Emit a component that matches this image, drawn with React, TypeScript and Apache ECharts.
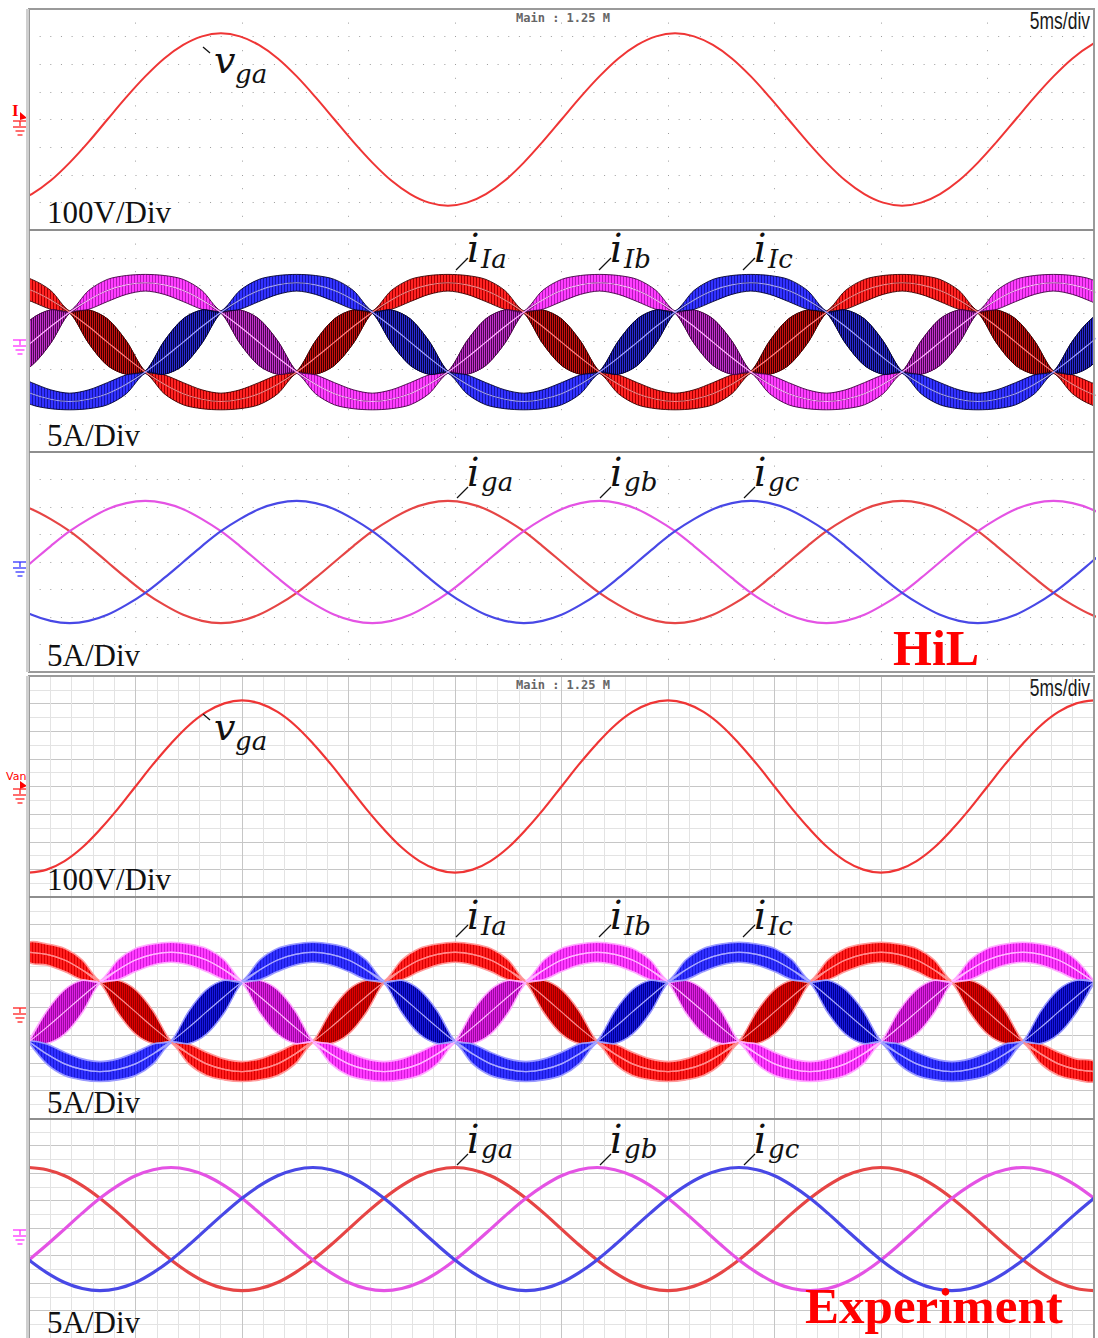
import React, { useEffect, useRef } from "react";
import * as echarts from "echarts";

// ---------------- HiL capture: sample instants (ms) ----------------
const hilTime = [-0.76, 0.13, 1.02, 1.91, 2.8, 3.68, 4.57, 5.46, 6.35, 7.24, 8.12, 9.01, 9.9, 10.79, 11.68, 12.57, 13.45, 14.34, 15.23, 16.12, 17.01, 17.9, 18.78, 19.67, 20.56, 21.45, 22.34, 23.23, 24.11, 25.0, 25.89, 26.78, 27.67, 28.56, 29.44, 30.33, 31.22, 32.11, 33.0, 33.89, 34.77, 35.66, 36.55, 37.44, 38.33, 39.22, 40.1, 40.99, 41.88, 42.77, 43.66, 44.55, 45.43, 46.32, 47.21, 48.1, 48.99, 49.88, 50.76];

// grid voltage v_ga (V)
const hilVga = [-301, -270, -221, -156, -81, 0, 81, 156, 221, 270, 301, 312, 301, 270, 221, 156, 81, 0, -81, -156, -221, -270, -301, -312, -301, -270, -221, -156, -81, 0, 81, 156, 221, 270, 301, 312, 301, 270, 221, 156, 81, 0, -81, -156, -221, -270, -301, -312, -301, -270, -221, -156, -81, 0, 81, 156, 221, 270, 301];

// inverter-side currents (A), fundamental
const hilILa = [10.3, 9.3, 7.6, 5.4, 2.8, 0, -2.8, -5.4, -7.6, -9.3, -10.3, -10.7, -10.3, -9.3, -7.6, -5.4, -2.8, 0, 2.8, 5.4, 7.6, 9.3, 10.3, 10.7, 10.3, 9.3, 7.6, 5.4, 2.8, 0, -2.8, -5.4, -7.6, -9.3, -10.3, -10.7, -10.3, -9.3, -7.6, -5.4, -2.8, 0, 2.8, 5.4, 7.6, 9.3, 10.3, 10.7, 10.3, 9.3, 7.6, 5.4, 2.8, 0, -2.8, -5.4, -7.6, -9.3, -10.3];
const hilILb = [-2.8, 0, 2.8, 5.4, 7.6, 9.3, 10.3, 10.7, 10.3, 9.3, 7.6, 5.4, 2.8, 0, -2.8, -5.4, -7.6, -9.3, -10.3, -10.7, -10.3, -9.3, -7.6, -5.4, -2.8, 0, 2.8, 5.4, 7.6, 9.3, 10.3, 10.7, 10.3, 9.3, 7.6, 5.4, 2.8, 0, -2.8, -5.4, -7.6, -9.3, -10.3, -10.7, -10.3, -9.3, -7.6, -5.4, -2.8, 0, 2.8, 5.4, 7.6, 9.3, 10.3, 10.7, 10.3, 9.3, 7.6];
const hilILc = [-7.6, -9.3, -10.3, -10.7, -10.3, -9.3, -7.6, -5.4, -2.8, 0, 2.8, 5.4, 7.6, 9.3, 10.3, 10.7, 10.3, 9.3, 7.6, 5.4, 2.8, 0, -2.8, -5.4, -7.6, -9.3, -10.3, -10.7, -10.3, -9.3, -7.6, -5.4, -2.8, 0, 2.8, 5.4, 7.6, 9.3, 10.3, 10.7, 10.3, 9.3, 7.6, 5.4, 2.8, 0, -2.8, -5.4, -7.6, -9.3, -10.3, -10.7, -10.3, -9.3, -7.6, -5.4, -2.8, 0, 2.8];

// switching-ripple half-width of each inverter current (A)
const hilRipA = [1.7, 2.0, 1.7, 0.2, 3.0, 4.2, 3.0, 0.2, 1.7, 2.0, 1.7, 1.5, 1.7, 2.0, 1.7, 0.2, 3.0, 4.2, 3.0, 0.2, 1.7, 2.0, 1.7, 1.5, 1.7, 2.0, 1.7, 0.2, 3.0, 4.2, 3.0, 0.2, 1.7, 2.0, 1.7, 1.5, 1.7, 2.0, 1.7, 0.2, 3.0, 4.2, 3.0, 0.2, 1.7, 2.0, 1.7, 1.5, 1.7, 2.0, 1.7, 0.2, 3.0, 4.2, 3.0, 0.2, 1.7, 2.0, 1.7];
const hilRipB = [3.0, 4.2, 3.0, 0.2, 1.7, 2.0, 1.7, 1.5, 1.7, 2.0, 1.7, 0.2, 3.0, 4.2, 3.0, 0.2, 1.7, 2.0, 1.7, 1.5, 1.7, 2.0, 1.7, 0.2, 3.0, 4.2, 3.0, 0.2, 1.7, 2.0, 1.7, 1.5, 1.7, 2.0, 1.7, 0.2, 3.0, 4.2, 3.0, 0.2, 1.7, 2.0, 1.7, 1.5, 1.7, 2.0, 1.7, 0.2, 3.0, 4.2, 3.0, 0.2, 1.7, 2.0, 1.7, 1.5, 1.7, 2.0, 1.7];
const hilRipC = [1.7, 2.0, 1.7, 1.5, 1.7, 2.0, 1.7, 0.2, 3.0, 4.2, 3.0, 0.2, 1.7, 2.0, 1.7, 1.5, 1.7, 2.0, 1.7, 0.2, 3.0, 4.2, 3.0, 0.2, 1.7, 2.0, 1.7, 1.5, 1.7, 2.0, 1.7, 0.2, 3.0, 4.2, 3.0, 0.2, 1.7, 2.0, 1.7, 1.5, 1.7, 2.0, 1.7, 0.2, 3.0, 4.2, 3.0, 0.2, 1.7, 2.0, 1.7, 1.5, 1.7, 2.0, 1.7, 0.2, 3.0, 4.2, 3.0];

// grid-side currents (A)
const hilIga = [10.7, 9.6, 7.8, 5.6, 2.9, 0, -2.9, -5.6, -7.8, -9.6, -10.7, -11.1, -10.7, -9.6, -7.8, -5.6, -2.9, 0, 2.9, 5.6, 7.8, 9.6, 10.7, 11.1, 10.7, 9.6, 7.8, 5.6, 2.9, 0, -2.9, -5.6, -7.8, -9.6, -10.7, -11.1, -10.7, -9.6, -7.8, -5.6, -2.9, 0, 2.9, 5.6, 7.8, 9.6, 10.7, 11.1, 10.7, 9.6, 7.8, 5.6, 2.9, 0, -2.9, -5.6, -7.8, -9.6, -10.7];
const hilIgb = [-2.9, 0, 2.9, 5.6, 7.8, 9.6, 10.7, 11.1, 10.7, 9.6, 7.8, 5.6, 2.9, 0, -2.9, -5.6, -7.8, -9.6, -10.7, -11.1, -10.7, -9.6, -7.8, -5.6, -2.9, 0, 2.9, 5.6, 7.8, 9.6, 10.7, 11.1, 10.7, 9.6, 7.8, 5.6, 2.9, 0, -2.9, -5.6, -7.8, -9.6, -10.7, -11.1, -10.7, -9.6, -7.8, -5.6, -2.9, 0, 2.9, 5.6, 7.8, 9.6, 10.7, 11.1, 10.7, 9.6, 7.8];
const hilIgc = [-7.8, -9.6, -10.7, -11.1, -10.7, -9.6, -7.8, -5.6, -2.9, 0, 2.9, 5.6, 7.8, 9.6, 10.7, 11.1, 10.7, 9.6, 7.8, 5.6, 2.9, 0, -2.9, -5.6, -7.8, -9.6, -10.7, -11.1, -10.7, -9.6, -7.8, -5.6, -2.9, 0, 2.9, 5.6, 7.8, 9.6, 10.7, 11.1, 10.7, 9.6, 7.8, 5.6, 2.9, 0, -2.9, -5.6, -7.8, -9.6, -10.7, -11.1, -10.7, -9.6, -7.8, -5.6, -2.9, 0, 2.9];

// ---------------- Experimental capture: sample instants (ms) ----------------
const expTime = [0, 0.83, 1.67, 2.5, 3.33, 4.17, 5, 5.83, 6.67, 7.5, 8.33, 9.17, 10, 10.83, 11.67, 12.5, 13.33, 14.17, 15, 15.83, 16.67, 17.5, 18.33, 19.17, 20, 20.83, 21.67, 22.5, 23.33, 24.17, 25, 25.83, 26.67, 27.5, 28.33, 29.17, 30, 30.83, 31.67, 32.5, 33.33, 34.17, 35, 35.83, 36.67, 37.5, 38.33, 39.17, 40, 40.83, 41.67, 42.5, 43.33, 44.17, 45, 45.83, 46.67, 47.5, 48.33, 49.17, 50];

const expVga = [-312, -301, -270, -221, -156, -81, 0, 81, 156, 221, 270, 301, 312, 301, 270, 221, 156, 81, 0, -81, -156, -221, -270, -301, -312, -301, -270, -221, -156, -81, 0, 81, 156, 221, 270, 301, 312, 301, 270, 221, 156, 81, 0, -81, -156, -221, -270, -301, -312, -301, -270, -221, -156, -81, 0, 81, 156, 221, 270, 301, 312];

const expILa = [10.8, 10.4, 9.4, 7.6, 5.4, 2.8, 0, -2.8, -5.4, -7.6, -9.4, -10.4, -10.8, -10.4, -9.4, -7.6, -5.4, -2.8, 0, 2.8, 5.4, 7.6, 9.4, 10.4, 10.8, 10.4, 9.4, 7.6, 5.4, 2.8, 0, -2.8, -5.4, -7.6, -9.4, -10.4, -10.8, -10.4, -9.4, -7.6, -5.4, -2.8, 0, 2.8, 5.4, 7.6, 9.4, 10.4, 10.8, 10.4, 9.4, 7.6, 5.4, 2.8, 0, -2.8, -5.4, -7.6, -9.4, -10.4, -10.8];
const expILb = [-5.4, -2.8, 0, 2.8, 5.4, 7.6, 9.4, 10.4, 10.8, 10.4, 9.4, 7.6, 5.4, 2.8, 0, -2.8, -5.4, -7.6, -9.4, -10.4, -10.8, -10.4, -9.4, -7.6, -5.4, -2.8, 0, 2.8, 5.4, 7.6, 9.4, 10.4, 10.8, 10.4, 9.4, 7.6, 5.4, 2.8, 0, -2.8, -5.4, -7.6, -9.4, -10.4, -10.8, -10.4, -9.4, -7.6, -5.4, -2.8, 0, 2.8, 5.4, 7.6, 9.4, 10.4, 10.8, 10.4, 9.4, 7.6, 5.4];
const expILc = [-5.4, -7.6, -9.4, -10.4, -10.8, -10.4, -9.4, -7.6, -5.4, -2.8, 0, 2.8, 5.4, 7.6, 9.4, 10.4, 10.8, 10.4, 9.4, 7.6, 5.4, 2.8, 0, -2.8, -5.4, -7.6, -9.4, -10.4, -10.8, -10.4, -9.4, -7.6, -5.4, -2.8, 0, 2.8, 5.4, 7.6, 9.4, 10.4, 10.8, 10.4, 9.4, 7.6, 5.4, 2.8, 0, -2.8, -5.4, -7.6, -9.4, -10.4, -10.8, -10.4, -9.4, -7.6, -5.4, -2.8, 0, 2.8, 5.4];

const expRipA = [1.8, 1.9, 2.1, 1.8, 0.2, 2.9, 4.0, 2.9, 0.2, 1.8, 2.1, 1.9, 1.8, 1.9, 2.1, 1.8, 0.2, 2.9, 4.0, 2.9, 0.2, 1.8, 2.1, 1.9, 1.8, 1.9, 2.1, 1.8, 0.2, 2.9, 4.0, 2.9, 0.2, 1.8, 2.1, 1.9, 1.8, 1.9, 2.1, 1.8, 0.2, 2.9, 4.0, 2.9, 0.2, 1.8, 2.1, 1.9, 1.8, 1.9, 2.1, 1.8, 0.2, 2.9, 4.0, 2.9, 0.2, 1.8, 2.1, 1.9, 1.8];
const expRipB = [0.2, 2.9, 4.0, 2.9, 0.2, 1.8, 2.1, 1.9, 1.8, 1.9, 2.1, 1.8, 0.2, 2.9, 4.0, 2.9, 0.2, 1.8, 2.1, 1.9, 1.8, 1.9, 2.1, 1.8, 0.2, 2.9, 4.0, 2.9, 0.2, 1.8, 2.1, 1.9, 1.8, 1.9, 2.1, 1.8, 0.2, 2.9, 4.0, 2.9, 0.2, 1.8, 2.1, 1.9, 1.8, 1.9, 2.1, 1.8, 0.2, 2.9, 4.0, 2.9, 0.2, 1.8, 2.1, 1.9, 1.8, 1.9, 2.1, 1.8, 0.2];
const expRipC = [0.2, 1.8, 2.1, 1.9, 1.8, 1.9, 2.1, 1.8, 0.2, 2.9, 4.0, 2.9, 0.2, 1.8, 2.1, 1.9, 1.8, 1.9, 2.1, 1.8, 0.2, 2.9, 4.0, 2.9, 0.2, 1.8, 2.1, 1.9, 1.8, 1.9, 2.1, 1.8, 0.2, 2.9, 4.0, 2.9, 0.2, 1.8, 2.1, 1.9, 1.8, 1.9, 2.1, 1.8, 0.2, 2.9, 4.0, 2.9, 0.2, 1.8, 2.1, 1.9, 1.8, 1.9, 2.1, 1.8, 0.2, 2.9, 4.0, 2.9, 0.2];

const expIga = [11.2, 10.8, 9.7, 7.9, 5.6, 2.9, 0, -2.9, -5.6, -7.9, -9.7, -10.8, -11.2, -10.8, -9.7, -7.9, -5.6, -2.9, 0, 2.9, 5.6, 7.9, 9.7, 10.8, 11.2, 10.8, 9.7, 7.9, 5.6, 2.9, 0, -2.9, -5.6, -7.9, -9.7, -10.8, -11.2, -10.8, -9.7, -7.9, -5.6, -2.9, 0, 2.9, 5.6, 7.9, 9.7, 10.8, 11.2, 10.8, 9.7, 7.9, 5.6, 2.9, 0, -2.9, -5.6, -7.9, -9.7, -10.8, -11.2];
const expIgb = [-5.6, -2.9, 0, 2.9, 5.6, 7.9, 9.7, 10.8, 11.2, 10.8, 9.7, 7.9, 5.6, 2.9, 0, -2.9, -5.6, -7.9, -9.7, -10.8, -11.2, -10.8, -9.7, -7.9, -5.6, -2.9, 0, 2.9, 5.6, 7.9, 9.7, 10.8, 11.2, 10.8, 9.7, 7.9, 5.6, 2.9, 0, -2.9, -5.6, -7.9, -9.7, -10.8, -11.2, -10.8, -9.7, -7.9, -5.6, -2.9, 0, 2.9, 5.6, 7.9, 9.7, 10.8, 11.2, 10.8, 9.7, 7.9, 5.6];
const expIgc = [-5.6, -7.9, -9.7, -10.8, -11.2, -10.8, -9.7, -7.9, -5.6, -2.9, 0, 2.9, 5.6, 7.9, 9.7, 10.8, 11.2, 10.8, 9.7, 7.9, 5.6, 2.9, 0, -2.9, -5.6, -7.9, -9.7, -10.8, -11.2, -10.8, -9.7, -7.9, -5.6, -2.9, 0, 2.9, 5.6, 7.9, 9.7, 10.8, 11.2, 10.8, 9.7, 7.9, 5.6, 2.9, 0, -2.9, -5.6, -7.9, -9.7, -10.8, -11.2, -10.8, -9.7, -7.9, -5.6, -2.9, 0, 2.9, 5.6];

// scope settings shown on screen
const scaleLabels = ["100V/Div", "5A/Div", "5A/Div"];
const timeBase = "5ms/div";
const sampleInfo = "Main : 1.25 M";

// ---------------- layout ----------------
const PLOT_LEFT = 29;
const PLOT_W = 1065;
const SCOPE_SHIFT = 667;
const panelBox = [
  { top: 9, height: 221, min: -400, max: 400, dotted: true },
  { top: 230, height: 222, min: -19.8, max: 20.2, dotted: true },
  { top: 452, height: 220, min: -20, max: 20, dotted: true },
  { top: 676, height: 221, min: -400, max: 400, dotted: false },
  { top: 897, height: 221, min: -19.2, max: 20.8, dotted: false },
  { top: 1118, height: 220, min: -19.8, max: 20.2, dotted: false },
];

// band palettes: base hatch, wide-lobe hatch, outline, centre line
const HIL_RED = { hi: "#ff2222", lo: "#a30000", dhi: "#c81010", dlo: "#3c0000", edge: "#3a0000", ew: 0.9, mid: "#ff8080" };
const HIL_MAG = { hi: "#ff3dff", lo: "#b21cb8", dhi: "#c432cc", dlo: "#4a0850", edge: "#40003f", ew: 0.9, mid: "#ffb0ff" };
const HIL_BLU = { hi: "#3232ff", lo: "#1616a8", dhi: "#2a2ad0", dlo: "#05053e", edge: "#000030", ew: 0.9, mid: "#a0a0ff" };
const EXP_RED = { hi: "#ff1e1e", lo: "#d80000", dhi: "#e00000", dlo: "#9a0000", edge: "#ff9a9a", ew: 1.6, mid: "#ff8a8a" };
const EXP_MAG = { hi: "#ff3aff", lo: "#d21ad8", dhi: "#e020e4", dlo: "#9a0aa0", edge: "#ffaaff", ew: 1.6, mid: "#ffb8ff" };
const EXP_BLU = { hi: "#3030ff", lo: "#1a1ad8", dhi: "#1818e0", dlo: "#000090", edge: "#9a9aff", ew: 1.6, mid: "#a8a8ff" };

const hatch = (a: string, b: string, wa: number, wb: number) => ({
  image:
    "data:image/svg+xml;charset=utf-8," +
    encodeURIComponent(
      `<svg xmlns="http://www.w3.org/2000/svg" width="${wa + wb}" height="4"><rect width="${wa}" height="4" fill="${a}"/><rect x="${wa}" width="${wb}" height="4" fill="${b}"/></svg>`
    ),
  repeat: "repeat",
  imageWidth: wa + wb,
  imageHeight: 4,
});

const pairs = (t: number[], v: number[]) => t.map((x, i) => [x, v[i]]);

// ripple envelope of an inverter current: full band plus the darker wide lobes
function band(p: number, t: number[], c: number[], r: number[], col: any) {
  const lobe = r.map((v) => (v >= 2.5 ? v : 0));
  return {
    type: "custom",
    coordinateSystem: "cartesian2d",
    xAxisIndex: p,
    yAxisIndex: p * 2 + 1,
    data: t.map((x, i) => [x, c[i], r[i]]),
    silent: true,
    clip: true,
    z: 2,
    renderItem: (params: any, api: any) => {
      if (params.dataIndex !== 0) return null;
      const outline = (w: number[]) =>
        t
          .map((x, i) => api.coord([x, c[i] + w[i]]))
          .concat(t.map((x, i) => api.coord([x, c[i] - w[i]])).reverse());
      return {
        type: "group",
        children: [
          {
            type: "polygon",
            shape: { points: outline(r), smooth: 0.3 },
            style: { fill: hatch(col.hi, col.lo, 2, 1), stroke: col.edge, lineWidth: col.ew },
          },
          {
            type: "polygon",
            shape: { points: outline(lobe), smooth: 0.3 },
            style: { fill: hatch(col.dhi, col.dlo, 1, 1), stroke: col.edge, lineWidth: col.ew * 0.8 },
          },
        ],
      };
    },
  };
}

function trace(p: number, t: number[], v: number[], color: string, width: number, z = 3) {
  return {
    type: "line",
    xAxisIndex: p,
    yAxisIndex: p * 2 + 1,
    data: pairs(t, v),
    symbol: "none",
    smooth: 0.35,
    silent: true,
    z,
    lineStyle: { width, color },
  };
}

function ground(cx: number, y0: number, color: string) {
  const ln = (x1: number, y1: number, x2: number, y2: number) => ({
    type: "line",
    shape: { x1, y1, x2, y2 },
    style: { stroke: color, lineWidth: 1.3 },
    z: 100,
  });
  return [
    ln(cx - 7, y0, cx + 7, y0),
    ln(cx, y0, cx, y0 + 5),
    ln(cx - 7, y0 + 6, cx + 7, y0 + 6),
    ln(cx - 4.5, y0 + 10, cx + 4.5, y0 + 10),
    ln(cx - 2.5, y0 + 14, cx + 2.5, y0 + 14),
  ];
}

function txt(x: number, y: number, text: string, font: string, fill = "#111", align = "left", scaleX = 1) {
  return {
    type: "text",
    x,
    y,
    scaleX,
    z: 110,
    style: { text, font, fill, align, verticalAlign: "middle", textAlign: align, textVerticalAlign: "middle" },
  };
}

function seg(x1: number, y1: number, x2: number, y2: number, stroke = "#111", lineWidth = 1.3) {
  return { type: "line", shape: { x1, y1, x2, y2 }, style: { stroke, lineWidth }, z: 110 };
}

function mathLabel(x: number, y: number, main: string, sub: string, subDx: number, subDy: number, mainSize: number) {
  return [
    txt(x, y, main, `italic ${mainSize}px "DejaVu Serif"`),
    txt(x + subDx, y + subDy, sub, `italic 26px "DejaVu Serif"`),
  ];
}

function scopeDecor(dy: number) {
  const g: any[] = [];
  g.push({
    type: "rect",
    shape: { x: PLOT_LEFT, y: 9 + dy, width: PLOT_W, height: 663 },
    style: { fill: "none", stroke: "#9a9a9a", lineWidth: 2 },
    z: 90,
  });
  g.push(seg(PLOT_LEFT - 1.5, 9 + dy, PLOT_LEFT - 1.5, 672 + dy, "#cfcfcf", 3));
  g.push(seg(PLOT_LEFT, 230 + dy, PLOT_LEFT + PLOT_W, 230 + dy, "#8e8e8e", 2));
  g.push(seg(PLOT_LEFT, 452 + dy, PLOT_LEFT + PLOT_W, 452 + dy, "#8e8e8e", 2));
  g.push(txt(563, 18 + dy, sampleInfo, 'bold 12px "DejaVu Sans Mono"', "#666", "center"));
  g.push(txt(1090, 21 + dy, timeBase, '23px "Liberation Sans"', "#1a1a1a", "right", 0.76));
  g.push(txt(47, 212 + dy, scaleLabels[0], '31px "Liberation Serif"'));
  g.push(txt(47, 435 + dy, scaleLabels[1], '31px "Liberation Serif"'));
  g.push(txt(47, 655 + dy, scaleLabels[2], '31px "Liberation Serif"'));
  g.push(...mathLabel(214, 60 + dy, "v", "ga", 21, 14, 38));
  g.push(seg(203, 47 + dy, 210, 53 + dy));
  const iL = [["Ia", 467], ["Ib", 610], ["Ic", 754]] as const;
  iL.forEach(([s, x]) => {
    g.push(...mathLabel(x, 248 + dy, "i", s, 14, 11, 39));
    g.push(seg(x + 1, 258 + dy, x - 11, 270 + dy));
  });
  const ig = [["ga", 467], ["gb", 610], ["gc", 754]] as const;
  ig.forEach(([s, x]) => {
    g.push(...mathLabel(x, 472 + dy, "i", s, 14, 10, 39));
    g.push(seg(x + 1, 487 + dy, x - 10, 498 + dy));
  });
  return g;
}

export default function App() {
  const ref = useRef<HTMLDivElement>(null);

  useEffect(() => {
    if (!ref.current) return;
    const chart = echarts.init(ref.current, undefined, { renderer: "svg" });

    const grid = panelBox.map((b) => ({ left: PLOT_LEFT, width: PLOT_W, top: b.top, height: b.height }));

    const xAxis = panelBox.map((b, i) => ({
      type: "value",
      gridIndex: i,
      min: 0,
      max: 50,
      interval: 5,
      axisLine: { show: false },
      axisTick: { show: false },
      axisLabel: { show: false },
      splitLine: b.dotted
        ? { show: true, lineStyle: { color: "#9c9c9c", width: 1, type: [1, 26.6], dashOffset: 13.8 } }
        : { show: true, lineStyle: { color: "#c6c6c6", width: 1 } },
      minorTick: { show: false, splitNumber: 5 },
      minorSplitLine: { show: !b.dotted, lineStyle: { color: "#e3e3e3", width: 1 } },
    }));

    const yAxis: any[] = [];
    panelBox.forEach((b, i) => {
      yAxis.push({
        type: "value",
        gridIndex: i,
        min: -4,
        max: 4,
        interval: 1,
        axisLine: { show: false },
        axisTick: { show: false },
        axisLabel: { show: false },
        splitLine: b.dotted
          ? { show: true, lineStyle: { color: "#9c9c9c", width: 1, type: [1, 9.65] } }
          : { show: true, lineStyle: { color: "#c6c6c6", width: 1 } },
        minorTick: { show: false, splitNumber: 2 },
        minorSplitLine: { show: !b.dotted, lineStyle: { color: "#e3e3e3", width: 1 } },
      });
      yAxis.push({ type: "value", gridIndex: i, min: b.min, max: b.max, show: false });
    });

    const series: any[] = [
      // HiL
      trace(0, hilTime, hilVga, "#ef3535", 2),
      band(1, hilTime, hilILa, hilRipA, HIL_RED),
      band(1, hilTime, hilILb, hilRipB, HIL_MAG),
      band(1, hilTime, hilILc, hilRipC, HIL_BLU),
      trace(1, hilTime, hilILa, HIL_RED.mid, 1.2, 4),
      trace(1, hilTime, hilILb, HIL_MAG.mid, 1.2, 4),
      trace(1, hilTime, hilILc, HIL_BLU.mid, 1.2, 4),
      trace(2, hilTime, hilIga, "#e64545", 2.2),
      trace(2, hilTime, hilIgb, "#e453e4", 2.2),
      trace(2, hilTime, hilIgc, "#4848e6", 2.2),
      // experiment
      trace(3, expTime, expVga, "#ef3535", 2.2),
      band(4, expTime, expILa, expRipA, EXP_RED),
      band(4, expTime, expILb, expRipB, EXP_MAG),
      band(4, expTime, expILc, expRipC, EXP_BLU),
      trace(4, expTime, expILa, EXP_RED.mid, 1.2, 4),
      trace(4, expTime, expILb, EXP_MAG.mid, 1.2, 4),
      trace(4, expTime, expILc, EXP_BLU.mid, 1.2, 4),
      trace(5, expTime, expIga, "#e64545", 3.2),
      trace(5, expTime, expIgb, "#e453e4", 3.2),
      trace(5, expTime, expIgc, "#4848e6", 3.2),
    ];

    const graphic: any[] = [
      ...scopeDecor(0),
      ...scopeDecor(SCOPE_SHIFT),
      txt(12, 110, "I", 'bold 17px "Liberation Serif"', "#ff0000"),
      { type: "polygon", shape: { points: [[20, 112], [27, 118], [20, 120]] }, style: { fill: "#ff0000" }, z: 100 },
      ...ground(20, 121, "#ff2020"),
      ...ground(20, 340, "#ff33ff"),
      ...ground(20, 562, "#3333ff"),
      txt(6, 776, "Van", '11px "DejaVu Sans"', "#ff0000"),
      { type: "polygon", shape: { points: [[20, 781], [27, 786], [20, 789]] }, style: { fill: "#ff0000" }, z: 100 },
      ...ground(20, 789, "#ff2020"),
      ...ground(20, 1008, "#ff2020"),
      ...ground(20, 1230, "#ff33ff"),
      txt(893, 648, "HiL", 'bold 50px "Liberation Serif"', "#ff0000"),
      txt(805, 1306, "Experiment", 'bold 51px "Liberation Serif"', "#ff0000"),
    ];

    chart.setOption({
      animation: false,
      backgroundColor: "#ffffff",
      grid,
      xAxis,
      yAxis,
      series,
      graphic,
    });

    return () => chart.dispose();
  }, []);

  return (
    <div
      ref={ref}
      style={{ position: "absolute", left: 0, top: 0, width: 1098, height: 1338, background: "#fff" }}
    />
  );
}
